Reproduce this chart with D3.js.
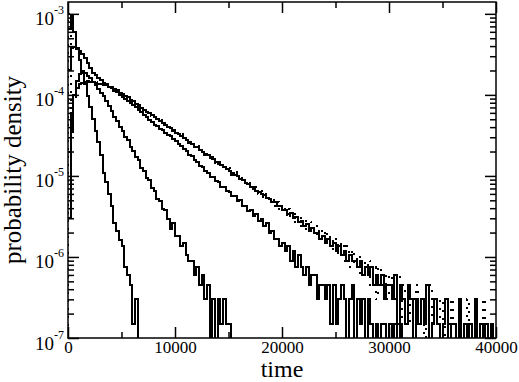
<!DOCTYPE html>
<html>
<head>
<meta charset="utf-8">
<script src="https://cdn.jsdelivr.net/npm/d3@7"></script>
<style>
body { margin: 0; background: #fff; }
svg { display: block; }
text { font-family: "Liberation Serif", "Times New Roman", serif; fill: #000; }
.axis path { display: none; }
.axis line { stroke: #000; stroke-width: 1.5; }
.frame { fill: none; stroke: #000; stroke-width: 1.5; }
.hist { fill: none; stroke: #000; stroke-width: 2; shape-rendering: crispEdges; }
.dotted { stroke-dasharray: 2,6; }
</style>
</head>
<body>
<script>
// histogram bins, each binWidth wide, starting at time 0
var binWidth = 250;
// densities below are in units of 1e-6
var unit = 1e-6;

var xTicks = [0, 10000, 20000, 30000, 40000];
var xMinor = [5000, 15000, 25000, 35000];
var yDecades = [1e-7, 1e-6, 1e-5, 1e-4, 1e-3];
var yExp = ["-7", "-6", "-5", "-4", "-3"];

var narrow = [650, 950, 600, 380, 270, 195, 138, 98, 70, 50, 36, 26, 18, 11, 8.5, 6, 4.2, 2.6, 2.1, 1.6,
  1.35, 0.75, 0.6, 0.45, 0.15, 0.3, 0];

var medium = [3, 35, 100, 150, 180, 188, 184, 172, 160, 146, 131, 117, 106, 97, 85, 72, 64, 54, 48, 40,
  36, 30, 27.5, 22.5, 20.5, 17, 15.5, 12.5, 11.6, 9.4, 8.8, 7, 6.5, 5.2, 4.9, 3.9, 3.8, 2.9, 2.2, 2.6,
  1.8, 1.8, 1.35, 1.5, 1.05, 0.9, 0.9, 0.6, 0.75, 0.45, 0.6, 0.3, 0.45, 0, 0.3, 0, 0.3, 0.15, 0.3, 0.15,
  0.15, 0];

var crossing = [200, 380, 392, 368, 352, 315, 288, 246, 217, 187,
  177, 161, 152, 141, 136, 125, 122, 113, 110, 100,
  95, 90, 84, 80, 74, 71, 65, 62, 57, 53,
  49, 46, 42.5, 41, 38, 36.5, 34, 32, 31, 28.5,
  27, 25, 23.5, 21.5, 20.5, 18, 17.5, 15.5, 15, 13.3,
  12.8, 11.5, 11, 9.8, 9.6, 8.6, 8.4, 7.4, 7.3, 6.5,
  6.4, 5.7, 5.7, 4.9, 5.0, 4.3, 4.3, 3.7, 3.8, 3.2,
  3.4, 2.8, 2.9, 2.4, 2.6, 1.95, 2.1, 1.65, 1.65, 1.35,
  1.5, 1.2, 1.35, 0.9, 1.2, 0.75, 1.05, 0.75, 0.6, 0.75,
  0.45, 0.6, 0.6, 0.3, 0.45, 0.45, 0.3, 0.45, 0.15, 0.45,
  0.15, 0.3, 0.45, 0.3, 0, 0.3, 0.45, 0, 0.3, 0.15,
  0.3, 0, 0.3, 0.15, 0, 0.15, 0, 0.15, 0.15, 0,
  0.15, 0, 0.15, 0, 0.15, 0];

var broad = [20, 60, 100, 122, 135, 141, 145, 147, 144, 143,
  141, 138, 137, 133, 131, 126, 124, 118, 116, 107,
  104, 97, 93, 86, 83, 77, 75, 69, 66, 62,
  60, 56, 53, 50, 47.5, 45, 43, 40, 38.5, 36.5,
  34, 32.5, 31, 29, 27.5, 26, 25, 23, 22.5, 21,
  20, 18.5, 18, 16.5, 16.2, 15, 14.2, 13.8, 12.8, 12.3,
  11.4, 11, 10.2, 9.9, 9.2, 8.9, 8.2, 8, 7.3, 7.2,
  6.6, 6.4, 5.9, 5.8, 5.3, 5.2, 4.7, 4.7, 4.2, 4.2,
  3.8, 3.8, 3.4, 3.45, 3.0, 3.1, 2.7, 2.8, 2.4, 2.55,
  2.1, 2.25, 1.95, 2.0, 1.65, 1.8, 1.5, 1.65, 1.35, 1.5,
  1.2, 1.35, 1.05, 1.2, 0.9, 1.05, 0.9, 0.9, 0.75, 0.9,
  0.6, 0.75, 0.6, 0.75, 0.45, 0.6, 0.45, 0.6, 0.3, 0.45,
  0.45, 0.3, 0.6, 0.15, 0.45, 0.3, 0.15, 0.45, 0.3, 0,
  0.3, 0.15, 0.3, 0.15, 0.45, 0, 0.15, 0.3, 0.15, 0,
  0.15, 0.3, 0, 0.15, 0.15, 0, 0.3, 0, 0.15, 0,
  0.15, 0, 0.3, 0, 0.15, 0, 0.15, 0, 0.15, 0];

var broadDotted = [1000, 35, 90, 120, 137, 140, 147, 145, 146, 141,
  143, 136, 138, 131, 133, 125, 125, 117, 117, 106,
  104, 95, 94, 85, 84, 76, 76, 68, 68, 61,
  61, 55, 55, 49, 49.5, 44, 44.5, 40, 40, 35.5,
  36, 31.5, 32.5, 28.5, 29, 25.5, 26, 23, 23.5, 20.5,
  21, 18.3, 19, 16.3, 17, 14.6, 15.3, 13, 13.8, 11.7,
  12.4, 10.4, 11.2, 9.4, 10.1, 8.4, 9.1, 7.5, 8.1, 6.7,
  7.3, 6, 6.6, 5.3, 6.0, 4.7, 5.4, 4.2, 4.8, 3.7,
  4.3, 3.3, 3.9, 3.0, 3.6, 2.7, 3.3, 2.4, 3.0, 2.1,
  2.7, 1.95, 2.4, 1.65, 2.25, 1.5, 2.1, 1.35, 1.8, 1.2,
  1.65, 1.05, 1.5, 0.9, 1.35, 0.75, 1.2, 0.75, 1.05, 0.6,
  0.9, 0.6, 0.9, 0.45, 0.75, 0.3, 0.75, 0.45, 0.6, 0.3,
  0.6, 0.45, 0.3, 0.6, 0.15, 0.45, 0.3, 0.45, 0.15, 0.3,
  0.45, 0.15, 0.3, 0, 0.3, 0.45, 0.15, 0.3, 0.15, 0.3,
  0, 0.3, 0.15, 0.3, 0.15, 0, 0.3, 0.15, 0.15, 0.3,
  0, 0.15, 0.3, 0.15, 0, 0.3, 0.15, 0, 0.15, 0.15];

var margin = {top: 2, right: 23, bottom: 44, left: 68},
    width = 519 - margin.left - margin.right,
    height = 382 - margin.top - margin.bottom;

var svg = d3.select("body").append("svg")
    .attr("width", 519)
    .attr("height", 382)
  .append("g")
    .attr("transform", "translate(" + margin.left + "," + margin.top + ")");

var x = d3.scaleLinear().domain([0, 40000]).range([0, width]);
var y = d3.scaleLog().domain([1e-7, 1.4e-3]).range([height, 0]);

svg.append("clipPath").attr("id", "plotclip")
  .append("rect").attr("width", width).attr("height", height);

// empty bins fall below the axis and get clipped
function yPos(v) { return v > 0 ? y(v * unit) : height + 20; }

function stepLine(values, fromBase) {
  var pts = values.map(function(v, i) { return [i * binWidth, v]; });
  pts.push([values.length * binWidth, values[values.length - 1]]);
  if (fromBase) pts.unshift([0, 0]);
  return d3.line()
    .x(function(d) { return x(d[0]); })
    .y(function(d) { return yPos(d[1]); })
    .curve(d3.curveStepAfter)(pts);
}

var plot = svg.append("g").attr("clip-path", "url(#plotclip)");
[narrow, medium, crossing, broad].forEach(function(s) {
  plot.append("path").attr("class", "hist").attr("d", stepLine(s, false));
});
plot.append("path").attr("class", "hist dotted").attr("d", stepLine(broadDotted, true));

// minor log ticks 2..9 in each decade
var yMinor = [];
yDecades.forEach(function(d) {
  for (var m = 2; m <= 9; m++) if (d * m < 1.4e-3) yMinor.push(d * m);
});

// bottom axis
svg.append("g").attr("class", "axis")
  .attr("transform", "translate(0," + height + ")")
  .call(d3.axisBottom(x).tickValues(xTicks).tickSize(-11).tickSizeOuter(0).tickPadding(3)
    .tickFormat(d3.format("d")))
  .selectAll("text").style("font-size", "17px");
svg.append("g").attr("class", "axis")
  .attr("transform", "translate(0," + height + ")")
  .call(d3.axisBottom(x).tickValues(xMinor).tickSize(-6).tickSizeOuter(0).tickFormat(""));

// top axis
svg.append("g").attr("class", "axis")
  .call(d3.axisTop(x).tickValues(xTicks).tickSize(-11).tickSizeOuter(0).tickFormat(""));
svg.append("g").attr("class", "axis")
  .call(d3.axisTop(x).tickValues(xMinor).tickSize(-6).tickSizeOuter(0).tickFormat(""));

// left axis with 10^n labels
var yl = svg.append("g").attr("class", "axis")
  .call(d3.axisLeft(y).tickValues(yDecades).tickSize(-11).tickSizeOuter(0).tickPadding(4).tickFormat(""));
yl.selectAll(".tick text").each(function(d, i) {
  var t = d3.select(this).attr("dy", null);
  t.append("tspan").attr("dy", 11).style("font-size", "19px").text("10");
  t.append("tspan").attr("dy", -11).style("font-size", "12px").text(yExp[i]);
});
svg.append("g").attr("class", "axis")
  .call(d3.axisLeft(y).tickValues(yMinor).tickSize(-6).tickSizeOuter(0).tickFormat(""));

// right axis
svg.append("g").attr("class", "axis")
  .attr("transform", "translate(" + width + ",0)")
  .call(d3.axisRight(y).tickValues(yDecades).tickSize(-11).tickSizeOuter(0).tickFormat(""));
svg.append("g").attr("class", "axis")
  .attr("transform", "translate(" + width + ",0)")
  .call(d3.axisRight(y).tickValues(yMinor).tickSize(-6).tickSizeOuter(0).tickFormat(""));

svg.append("rect").attr("class", "frame").attr("width", width).attr("height", height);

// axis titles
svg.append("text")
  .attr("x", width / 2)
  .attr("y", height + 39)
  .attr("text-anchor", "middle")
  .style("font-size", "24px")
  .text("time");

svg.append("text")
  .attr("transform", "translate(" + (21 - margin.left) + "," + (height / 2) + ") rotate(-90)")
  .attr("text-anchor", "middle")
  .style("font-size", "25px")
  .text("probability density");
</script>
</body>
</html>
